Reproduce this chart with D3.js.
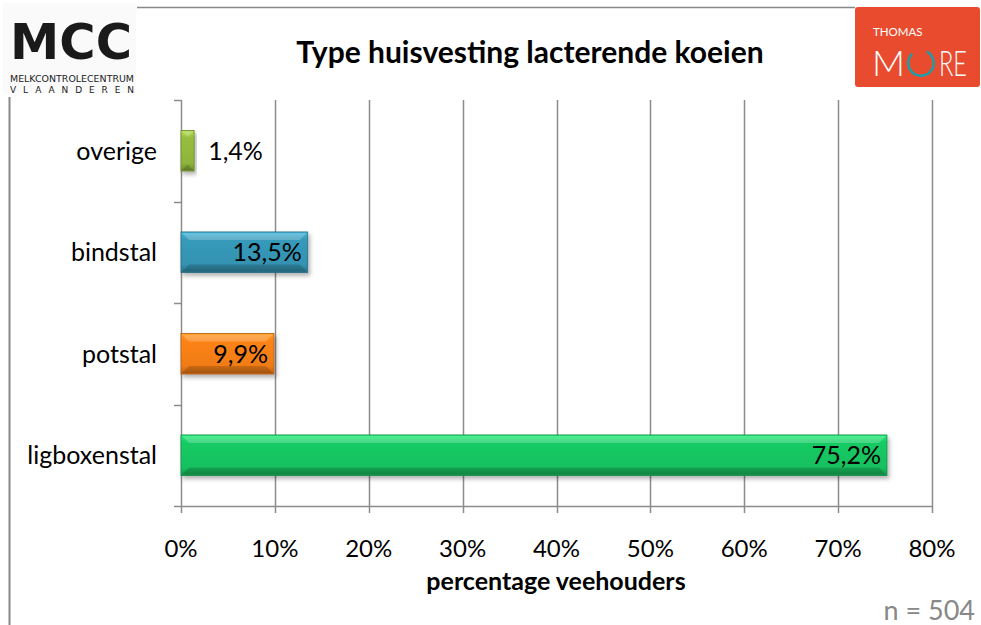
<!DOCTYPE html>
<html><head><meta charset="utf-8">
<script src="https://cdn.jsdelivr.net/npm/d3@7"></script>
<style>body{margin:0;background:#fff}svg{display:block}</style>
</head><body>
<svg id="c" width="981" height="625"></svg>
<script>
const categories = ["overige", "bindstal", "potstal", "ligboxenstal"];
const values = [1.4, 13.5, 9.9, 75.2];
const valueLabels = ["1,4%", "13,5%", "9,9%", "75,2%"];
const barColors = ["#8fb43c", "#3492b1", "#f07c18", "#17c05f"];
const xTicks = [0, 10, 20, 30, 40, 50, 60, 70, 80];
const title = "Type huisvesting lacterende koeien";
const xTitle = "percentage veehouders";
const note = "n = 504";

const F = "Lato, 'Open Sans', sans-serif";
const svg = d3.select("#c");
const defs = svg.append("defs");
const M = {left: 181, right: 932, top: 100, bottom: 506};

const x = d3.scaleLinear().domain([0, 80]).range([M.left, M.right]);
const y = d3.scaleBand().domain(categories).range([M.top, M.bottom]).paddingInner(0.6).paddingOuter(0.3);
const yBand = d3.scaleBand().domain(categories).range([M.top, M.bottom]);

// frame lines
svg.append("line").attr("x1", 9.5).attr("x2", 9.5).attr("y1", 97).attr("y2", 625).attr("stroke", "#888").attr("stroke-width", 2);
svg.append("line").attr("x1", 137).attr("x2", 855).attr("y1", 7.5).attr("y2", 7.5).attr("stroke", "#888").attr("stroke-width", 1.5);

// shadow filter
const f = defs.append("filter").attr("id", "sh").attr("x", "-10%").attr("y", "-20%").attr("width", "130%").attr("height", "160%");
f.append("feDropShadow").attr("dx", 2).attr("dy", 3).attr("stdDeviation", 2).attr("flood-color", "#000").attr("flood-opacity", 0.3);

barColors.forEach((c, i) => {
  const g = defs.append("linearGradient").attr("id", "g" + i).attr("x1", 0).attr("x2", 0).attr("y1", 0).attr("y2", 1);
  const col = d3.color(c);
  g.append("stop").attr("offset", "0%").attr("stop-color", col.brighter(0.6));
  g.append("stop").attr("offset", "18%").attr("stop-color", col.brighter(0.15));
  g.append("stop").attr("offset", "80%").attr("stop-color", c);
  g.append("stop").attr("offset", "100%").attr("stop-color", col.darker(0.7));
});

// gridlines
svg.append("g").selectAll("line").data(xTicks).join("line")
  .attr("x1", d => Math.round(x(d)) + 0.5).attr("x2", d => Math.round(x(d)) + 0.5)
  .attr("y1", M.top).attr("y2", M.bottom + 7)
  .attr("stroke", "#8c8c8c").attr("stroke-width", 1.5);

// x axis line
svg.append("line").attr("x1", M.left).attr("x2", M.right + 1).attr("y1", M.bottom + 0.5).attr("y2", M.bottom + 0.5).attr("stroke", "#8c8c8c").attr("stroke-width", 1.5);

// y axis ticks
const yTickPos = categories.map(c => yBand(c)).concat([M.bottom]);
svg.append("g").selectAll("line").data(yTickPos).join("line")
  .attr("x1", M.left - 7).attr("x2", M.left).attr("y1", d => Math.round(d) + 0.5).attr("y2", d => Math.round(d) + 0.5)
  .attr("stroke", "#8c8c8c").attr("stroke-width", 1.5);

// x tick labels
svg.append("g").selectAll("text").data(xTicks).join("text")
  .attr("x", d => x(d)).attr("y", 557).attr("text-anchor", "middle")
  .attr("font-family", F).attr("font-size", 24).attr("fill", "#000").text(d => d + "%");

// category labels
svg.append("g").selectAll("text").data(categories).join("text")
  .attr("x", 157).attr("y", d => yBand(d) + yBand.bandwidth() / 2 + 9).attr("text-anchor", "end")
  .attr("font-family", F).attr("font-size", 25).attr("fill", "#000").text(d => d);

// bars
const bars = svg.append("g").selectAll("g").data(categories).join("g");
bars.append("rect")
  .attr("x", M.left).attr("y", d => y(d)).attr("width", (d, i) => x(values[i]) - x(0)).attr("height", y.bandwidth())
  .attr("fill", (d, i) => `url(#g${i})`).attr("filter", "url(#sh)")
  .attr("stroke", (d, i) => d3.color(barColors[i]).darker(0.8)).attr("stroke-width", 0.8);
// bevel highlights
bars.append("path")
  .attr("d", (d, i) => {
    const x0 = M.left + 1, x1 = x(values[i]) - 1, y0 = y(d) + 1, b = Math.min(7, (x1 - x0) / 2);
    return `M${x0},${y0}L${x1},${y0}L${x1 - b},${y0 + b}L${x0 + b},${y0 + b}Z`;
  })
  .attr("fill", "#fff").attr("opacity", 0.22);
bars.append("path")
  .attr("d", (d, i) => {
    const x0 = M.left + 1, x1 = x(values[i]) - 1, y0 = y(d) + 1, h = y.bandwidth() - 2, b = Math.min(7, (x1 - x0) / 2);
    return `M${x0},${y0 + h}L${x1},${y0 + h}L${x1 - b},${y0 + h - b}L${x0 + b},${y0 + h - b}Z`;
  })
  .attr("fill", "#000").attr("opacity", 0.15);

// value labels
svg.append("g").selectAll("text").data(categories).join("text")
  .attr("x", (d, i) => values[i] < 5 ? x(values[i]) + 14 : x(values[i]) - 6)
  .attr("y", d => y(d) + y.bandwidth() / 2 + 9)
  .attr("text-anchor", (d, i) => values[i] < 5 ? "start" : "end")
  .attr("font-family", F).attr("font-size", 25).attr("fill", "#000")
  .text((d, i) => valueLabels[i]);

// titles
svg.append("text").attr("x", 530).attr("y", 63).attr("text-anchor", "middle")
  .attr("font-family", F).attr("font-weight", "bold").attr("font-size", 30).text(title);
svg.append("text").attr("x", 556).attr("y", 590).attr("text-anchor", "middle")
  .attr("font-family", F).attr("font-weight", "bold").attr("font-size", 25).text(xTitle);
svg.append("text").attr("x", 975).attr("y", 620).attr("text-anchor", "end")
  .attr("font-family", F).attr("font-size", 27).attr("fill", "#888").text(note);

// MCC logo
const ml = svg.append("g");
ml.append("rect").attr("x", 3).attr("y", 3).attr("width", 133).attr("height", 90).attr("fill", "#fafafa");
ml.append("text").attr("x", 10).attr("y", 59).attr("font-family", "'DejaVu Sans', sans-serif").attr("font-weight", "bold")
  .attr("font-size", 50).attr("textLength", 122).attr("lengthAdjust", "spacingAndGlyphs").attr("fill", "#1a1a1a").text("MCC");
ml.append("text").attr("x", 10).attr("y", 82).attr("font-family", "'DejaVu Sans', sans-serif").attr("font-size", 9.5)
  .attr("textLength", 124).attr("lengthAdjust", "spacingAndGlyphs").attr("fill", "#222").text("MELKCONTROLECENTRUM");
ml.append("text").attr("x", 10).attr("y", 93).attr("font-family", "'DejaVu Sans', sans-serif").attr("font-size", 9)
  .attr("textLength", 124).attr("lengthAdjust", "spacing").attr("fill", "#222").text("VLAANDEREN");

// Thomas More logo
const tl = svg.append("g");
tl.append("rect").attr("x", 855).attr("y", 7).attr("width", 125).attr("height", 80).attr("rx", 3).attr("fill", "#e94b2e");
tl.append("text").attr("x", 873).attr("y", 36).attr("font-family", F).attr("font-size", 11.5).attr("fill", "#fff").text("THOMAS");
tl.append("text").attr("x", 872).attr("y", 76).attr("font-family", "Lato, sans-serif").attr("font-weight", 300)
  .attr("font-size", 35).attr("fill", "#fff").attr("textLength", 33).attr("lengthAdjust", "spacingAndGlyphs").text("M");
tl.append("text").attr("x", 939).attr("y", 76).attr("font-family", "Lato, sans-serif").attr("font-weight", 300)
  .attr("font-size", 35).attr("fill", "#fff").attr("textLength", 28).attr("lengthAdjust", "spacingAndGlyphs").text("RE");
tl.append("path").attr("d", d3.arc()({innerRadius: 11.5, outerRadius: 14, startAngle: Math.PI * 0.15, endAngle: Math.PI * 1.75}))
  .attr("transform", "translate(921,63)").attr("fill", "#1aa0a8");
</script>
</body></html>
